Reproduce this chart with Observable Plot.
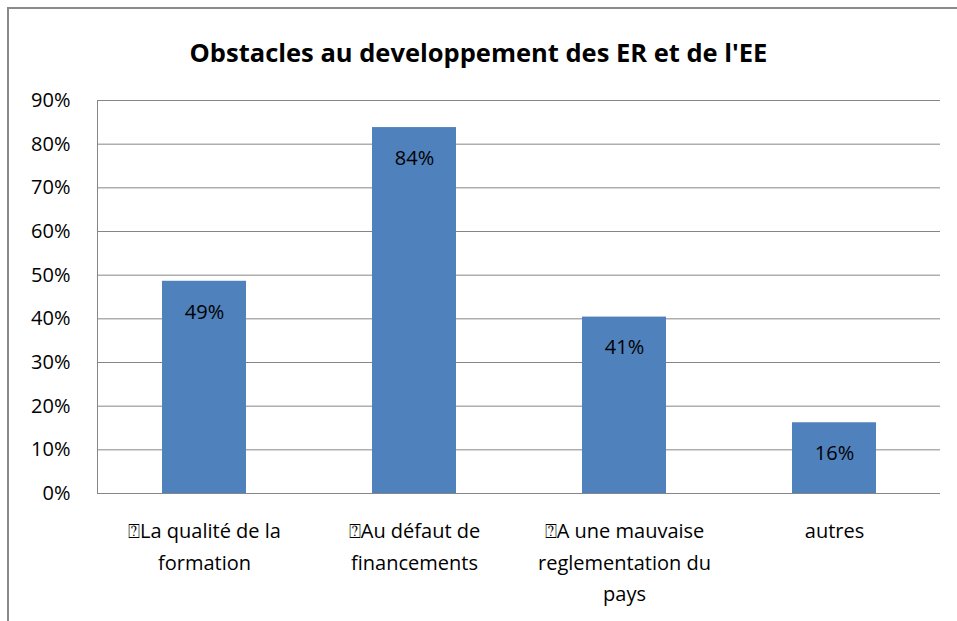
<!DOCTYPE html>
<html>
<head>
<meta charset="utf-8">
<script src="https://cdn.jsdelivr.net/npm/d3@7"></script>
<script src="https://cdn.jsdelivr.net/npm/@observablehq/plot@0.6"></script>
<style>
  body { margin: 0; background: #fff; }
  #wrap { position: relative; width: 957px; height: 621px; overflow: hidden; font-family: "Open Sans", "Noto Sans", sans-serif; }
  #border { position: absolute; left: 7px; top: 7px; width: 1000px; height: 700px; border-top: 2px solid #8a8a8a; border-left: 2px solid #8a8a8a; box-sizing: border-box; }
  #title { position: absolute; left: 0; top: 0; width: 957px; height: 85px; display: flex; align-items: center; justify-content: center; padding-top: 19px; box-sizing: border-box; font-weight: bold; font-size: 25.5px; color: #000; }
  #chart { position: absolute; left: 0; top: 85px; }
</style>
</head>
<body>
<div id="wrap">
  <div id="border"></div>
  <div id="title">Obstacles au developpement des ER et de l'EE</div>
  <div id="chart"></div>
</div>
<script>
const categories = [
  "\u2370La qualité de la\nformation",
  "\u2370Au défaut de\nfinancements",
  "\u2370A une mauvaise\nreglementation du\npays",
  "autres"
];
const values = [0.486, 0.838, 0.404, 0.162];
const valueLabels = ["49%", "84%", "41%", "16%"];
const yTicks = [0, 0.1, 0.2, 0.3, 0.4, 0.5, 0.6, 0.7, 0.8, 0.9];

const data = categories.map((c, i) => ({cat: c, value: values[i], label: valueLabels[i]}));

const chart = Plot.plot({
  width: 957,
  height: 536,
  marginTop: 15,
  marginBottom: 128,
  marginLeft: 97,
  marginRight: 17,
  style: {fontFamily: "'Open Sans', 'Noto Sans', sans-serif", fontSize: "19px", color: "#000", background: "transparent"},
  x: {domain: categories, paddingInner: 0.6, paddingOuter: 0.3, label: null},
  y: {domain: [0, 0.9], label: null},
  marks: [
    Plot.gridY(yTicks, {stroke: "#868686", strokeOpacity: 1, strokeWidth: 1}),
    Plot.frame({anchor: "left", stroke: "#868686", strokeOpacity: 1}),
    Plot.barY(data, {x: "cat", y: "value", fill: "#4F81BD"}),
    Plot.text(data, {x: "cat", y: "value", text: "label", dy: 31, fill: "#000", fontSize: 20}),
    Plot.axisY(yTicks, {tickFormat: d => Math.round(d * 100) + "%", tickSize: 0, tickPadding: 27, fontSize: 20, fill: "#000"}),
    Plot.axisX({tickSize: 0, tickPadding: 22, fontSize: 20, lineHeight: 1.58, fill: "#000"})
  ]
});
document.getElementById("chart").appendChild(chart);
</script>
</body>
</html>
